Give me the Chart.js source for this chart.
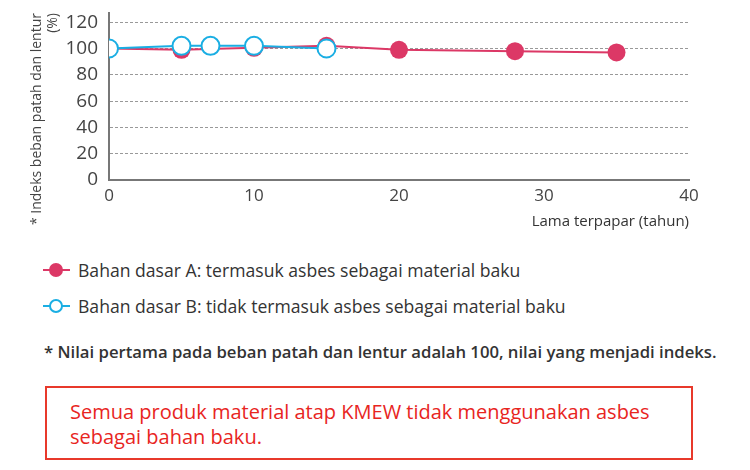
<!DOCTYPE html>
<html>
<head>
<meta charset="utf-8">
<script src="https://cdn.jsdelivr.net/npm/chart.js@4/dist/chart.umd.min.js"></script>
<style>
    body { margin: 0; background: #fff; font-family: "Open Sans", sans-serif; color: #333; }
    #wrap { position: relative; width: 750px; height: 470px; }
    #chartBox { position: absolute; left: 0; top: 0; width: 750px; height: 240px; }
    #legend { position: absolute; left: 43px; top: 252px; }
    .legend-row { display: flex; align-items: center; height: 36px; font-size: 17.6px; color: #333; }
    .legend-mark { position: relative; width: 27px; height: 16px; margin-right: 8px; }
    .legend-mark .ln { position: absolute; left: 0; right: 0; top: 7px; height: 2px; }
    .legend-mark .dot { position: absolute; left: 6px; top: 1px; width: 14px; height: 14px; border-radius: 50%; box-sizing: border-box; }
    #note { position: absolute; left: 44px; top: 340px; font-size: 16.7px; font-weight: 600; color: #333; white-space: nowrap; }
    #box { position: absolute; left: 45px; top: 386px; width: 644px; height: 70px; border: 2px solid #E8392B; }
    #box p { margin: 0; position: absolute; left: 23px; top: 11px; font-size: 20px; line-height: 25px; color: #E8251E; white-space: nowrap; }
</style>
</head>
<body>
<div id="wrap">
    <div id="chartBox"><canvas id="agingChart" width="750" height="240"></canvas></div>
    <div id="legend"></div>
    <div id="note">* Nilai pertama pada beban patah dan lentur adalah 100, nilai yang menjadi indeks.</div>
    <div id="box"><p>Semua produk material atap KMEW tidak menggunakan asbes<br>sebagai bahan baku.</p></div>
</div>
<script>
// Data
const seriesLabels = [
    "Bahan dasar A: termasuk asbes sebagai material baku",
    "Bahan dasar B: tidak termasuk asbes sebagai material baku"
];
const yearsA = [0, 5, 10, 15, 20, 28, 35];
const indexA = [100, 99, 100.5, 102, 99, 98, 97];
const yearsB = [0, 5, 7, 10, 15];
const indexB = [100, 102, 102, 102, 100];
const xTicks = [0, 10, 20, 30, 40];
const yTicks = [0, 20, 40, 60, 80, 100, 120];
const yTitleLines = ["* Indeks beban patah dan lentur", "(%)"];
const xTitle = "Lama terpapar (tahun)";

const pink = "#DC3866";
const blue = "#1AAEE3";

function toPoints(xs, ys) {
    return xs.map((x, i) => ({ x: x, y: ys[i] }));
}

// Rotated y title, right aligned at top end like the reference
const yTitlePlugin = {
    id: "yTitle",
    afterDraw(chart) {
        const ctx = chart.ctx;
        ctx.save();
        ctx.rotate(-Math.PI / 2);
        ctx.font = "14px 'Open Sans'";
        ctx.fillStyle = "#444";
        ctx.textAlign = "right";
        ctx.textBaseline = "middle";
        ctx.fillText(yTitleLines[0], -13, 37);
        ctx.fillText(yTitleLines[1], -13, 53);
        ctx.restore();
    }
};

const ctx = document.getElementById("agingChart").getContext("2d");
new Chart(ctx, {
    type: "line",
    data: {
        datasets: [
            {
                label: seriesLabels[0],
                data: toPoints(yearsA, indexA),
                borderColor: pink,
                backgroundColor: pink,
                borderWidth: 2,
                pointRadius: 9,
                pointBorderWidth: 0,
                pointBackgroundColor: pink,
                tension: 0,
                order: 2
            },
            {
                label: seriesLabels[1],
                data: toPoints(yearsB, indexB),
                borderColor: blue,
                backgroundColor: "#fff",
                borderWidth: 2,
                pointRadius: 9,
                pointBorderWidth: 2,
                pointBorderColor: blue,
                pointBackgroundColor: "#fff",
                tension: 0,
                order: 1
            }
        ]
    },
    options: {
        responsive: false,
        animation: false,
        maintainAspectRatio: false,
        layout: { padding: { top: 13, right: 61, bottom: 0, left: 0 } },
        plugins: {
            legend: { display: false },
            tooltip: { enabled: false }
        },
        scales: {
            x: {
                type: "linear",
                min: 0,
                max: 40,
                afterBuildTicks: (axis) => { axis.ticks = xTicks.map((v) => ({ value: v })); },
                afterFit: (axis) => {
                    axis.height = 60;
                    axis.paddingLeft = 0;
                    axis.paddingRight = 0;
                },
                grid: { display: false, drawTicks: false },
                border: { color: "#777", width: 2 },
                ticks: { color: "#444", font: { family: "Open Sans", size: 17 }, padding: 6, maxRotation: 0 },
                title: {
                    display: true,
                    text: xTitle,
                    align: "end",
                    color: "#333",
                    font: { family: "Open Sans", size: 15 },
                    padding: { top: 0, bottom: 9 }
                }
            },
            y: {
                min: 0,
                max: 127,
                afterBuildTicks: (axis) => { axis.ticks = yTicks.map((v) => ({ value: v })); },
                afterFit: (axis) => {
                    axis.width = 109;
                    axis.paddingTop = 0;
                    axis.paddingBottom = 0;
                },
                grid: {
                    color: "#999",
                    lineWidth: 1,
                    drawTicks: false
                },
                border: { color: "#777", width: 2, dash: [3, 2] },
                ticks: { color: "#444", font: { family: "Open Sans", size: 19 }, padding: 11 }
            }
        }
    },
    plugins: [yTitlePlugin]
});

// HTML legend
document.getElementById("legend").innerHTML = [
    { text: seriesLabels[0], color: pink, fill: pink },
    { text: seriesLabels[1], color: blue, fill: "#fff" }
].map((s) =>
    `<div class="legend-row"><span class="legend-mark"><span class="ln" style="background:${s.color}"></span>` +
    `<span class="dot" style="background:${s.fill};border:2px solid ${s.color}"></span></span>${s.text}</div>`
).join("");
</script>
</body>
</html>
